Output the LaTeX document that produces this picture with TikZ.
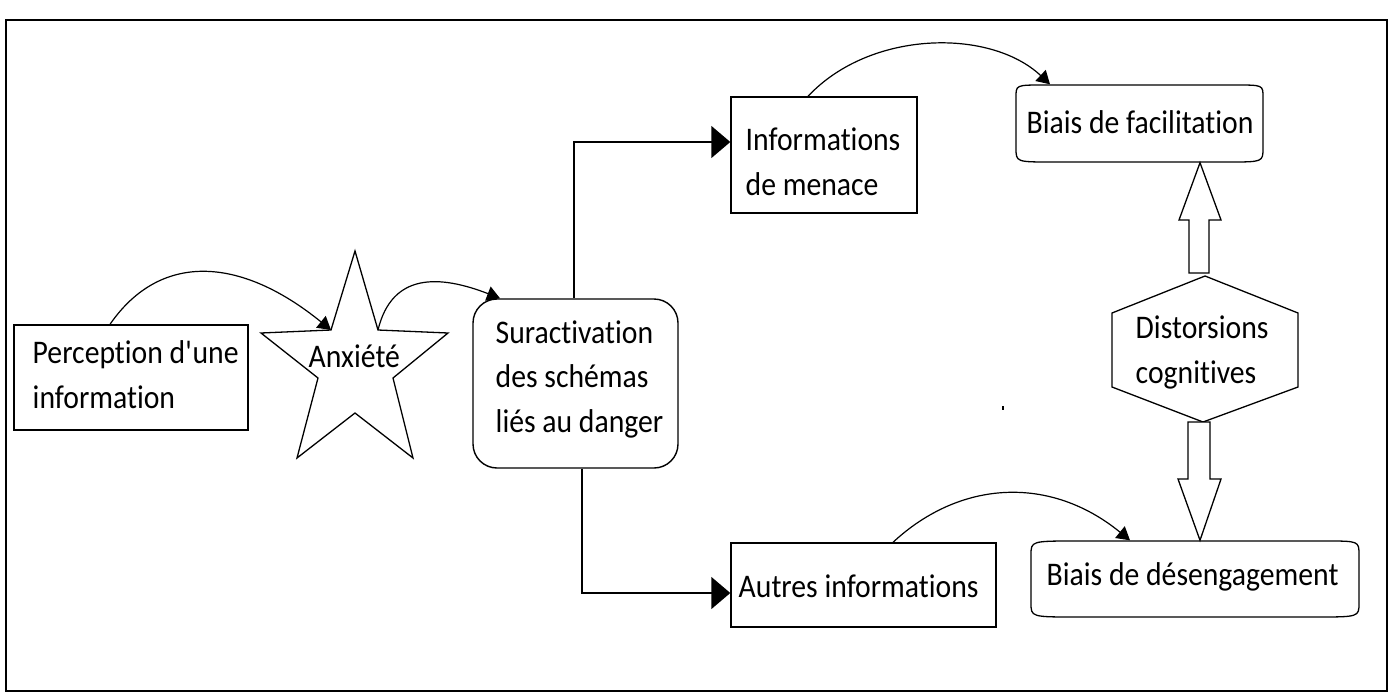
\documentclass[tikz,border=0pt]{standalone}
\usepackage{fontspec}
\setmainfont{Carlito}[FakeStretch=0.9, Ligatures={NoCommon}]
\usetikzlibrary{arrows.meta}
\begin{document}
\begin{tikzpicture}[x=1pt,y=-1pt,
  line width=1.4pt,
  lbl/.style={font=\fontsize{33}{44.5}\selectfont, inner sep=0pt, anchor=base west, align=left},
  boxnode/.style={draw, rectangle, inner sep=0pt, line width=1.4pt},
  ghost/.style={rectangle, inner sep=0pt},
  curvearrow/.style={-{Triangle[length=13pt,width=15pt]}, line width=1.2pt},
  elbowarrow/.style={-{Triangle[length=19pt,width=32pt]}, line width=1.4pt},
  blockarrow/.style={draw, fill=white, line width=1.3pt, line join=miter},
  outline/.style={draw, line width=1.3pt, line join=miter}
]
\useasboundingbox (0,0) rectangle (1391,693);
\draw[line width=1.3pt] (6,20) rectangle (1387,691);

% boxes
\node[boxnode, minimum width=234pt, minimum height=105pt] (perc) at (131,377.5) {};
\node[boxnode, minimum width=186pt, minimum height=116pt] (info) at (824,155) {};
\node[boxnode, minimum width=265pt, minimum height=84pt] (aut) at (863.5,585) {};
\node[boxnode, rounded corners=24pt, minimum width=205pt, minimum height=169pt] (sur) at (575.5,383.5) {};
\node[ghost, minimum width=247pt, minimum height=77pt] (fac) at (1139.5,123.5) {};
\node[ghost, minimum width=328pt, minimum height=76pt] (des) at (1195,579) {};
\node[ghost, minimum width=186pt, minimum height=146pt] (hex) at (1205,349) {};

% Biais outlines (elliptic corners)
\draw[outline] (1044,85) -- (1235,85) .. controls (1263,85) .. (1263,97) -- (1263,148)
  .. controls (1263,162) .. (1228,162) -- (1052,162) .. controls (1016,162) .. (1016,148)
  -- (1016,97) .. controls (1016,85) .. (1044,85) -- cycle;
\draw[outline] (1077,541) -- (1325,541) .. controls (1359,541) .. (1359,555) -- (1359,603)
  .. controls (1359,617) .. (1315,617) -- (1077,617) .. controls (1031,617) .. (1031,603)
  -- (1031,555) .. controls (1031,541) .. (1077,541) -- cycle;

% star
\coordinate (s1) at (355,251);
\coordinate (s2) at (378,330);
\coordinate (s3) at (448,333);
\coordinate (s4) at (393,378);
\coordinate (s5) at (413,458);
\coordinate (s6) at (355,413);
\coordinate (s7) at (297,458);
\coordinate (s8) at (318,378);
\coordinate (s9) at (261,333);
\coordinate (s10) at (331,330);
\draw[outline] (s1)--(s2)--(s3)--(s4)--(s5)--(s6)--(s7)--(s8)--(s9)--(s10)--cycle;

% hexagon
\draw[outline] (1205,276) -- (1298,313) -- (1298,387) -- (1203,422) -- (1112,387) -- (1112,313) -- cycle;

% texts (multi-line: anchor at the baseline of the last line)
\node[lbl] (percT) at (32,408) {Perception d\textquotesingle une\\information};
\node[lbl] (anx) at (308,367) {Anxiété};
\node[lbl] (surT) at (495,432) {Suractivation\\des schémas\\liés au danger};
\node[lbl] (infoT) at (745,195) {Informations\\de menace};
\node[lbl] (facT) at (1026,133) {Biais de facilitation};
\node[lbl] (hexT) at (1135,383) {Distorsions\\cognitives};
\node[lbl] (autT) at (738,597) {Autres informations};
\node[lbl] (desT) at (1046,585) {Biais de désengagement};

% attachment coordinates
\coordinate (c1) at (110,0);
\coordinate (c2) at (500,0);
\coordinate (c3) at (808,0);
\coordinate (c4) at (1050,0);
\coordinate (c5) at (893,0);
\coordinate (c6) at (1130,0);
\coordinate (e1) at (574,142);
\coordinate (e2) at (582,593);
\coordinate (b1) at (1200,0);

% curved connectors
\draw[curvearrow] (perc.north -| c1) .. controls (160,252) and (240,256) .. (s10);
\draw[curvearrow] (s2) .. controls (392,272) and (440,275) .. (sur.north -| c2);
\draw[curvearrow] (info.north -| c3) .. controls (870,30) and (990,28) .. (fac.north -| c4);
\draw[curvearrow] (aut.north -| c5) .. controls (960,480) and (1050,475) .. (des.north -| c6);

% elbow connectors
\draw[elbowarrow] (sur.north -| e1) |- (info.west |- e1);
\draw[elbowarrow] (sur.south -| e2) |- (aut.west |- e2);

% block arrows
\draw[blockarrow] (1189,273) -- (1189,220) -- (1179,220) -- (fac.south -| b1) -- (1221,220) -- (1209,220) -- (1209,273) -- cycle;
\draw[blockarrow] (1188,422) -- (1188,479) -- (1178,479) -- (des.north -| b1) -- (1221,479) -- (1210,479) -- (1210,422) -- cycle;

% stray mark
\fill (1002,406) rectangle (1004,410);
\end{tikzpicture}
\end{document}
